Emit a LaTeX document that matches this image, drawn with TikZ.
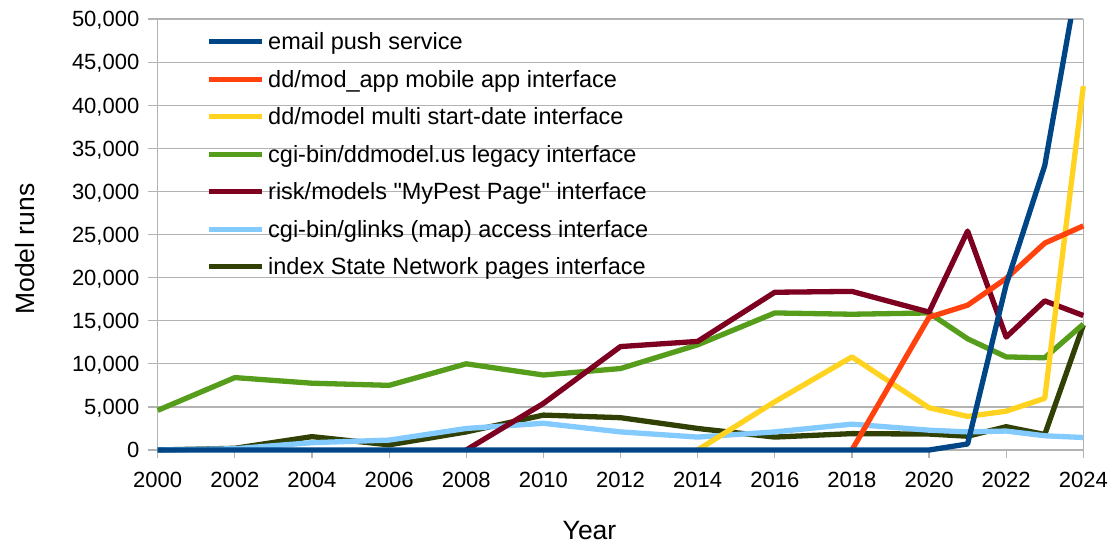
\documentclass[tikz,border=0pt]{standalone}
\usepackage{fontspec}
\setmainfont{Liberation Sans}[Ligatures=TeXOff]
\definecolor{gridc}{HTML}{B3B3B3}
\definecolor{cEmail}{HTML}{004586}
\definecolor{cApp}{HTML}{FF420E}
\definecolor{cMulti}{HTML}{FFD320}
\definecolor{cLegacy}{HTML}{579D1C}
\definecolor{cRisk}{HTML}{7E0021}
\definecolor{cGlinks}{HTML}{83CAFF}
\definecolor{cIndex}{HTML}{314004}
\tikzset{
  gridline/.style={draw=gridc, line width=1.2pt},
  ticklab/.style={font=\fontsize{22}{26}\selectfont, inner sep=0pt, text=black},
  legtext/.style={font=\fontsize{23.5}{27}\selectfont, inner sep=0pt, anchor=base west},
  axtitle/.style={font=\fontsize{26.5}{30}\selectfont, inner sep=0pt},
  series/.style={line width=5.3pt, line join=round},
  legline/.style={line width=5.3pt},
}
\begin{document}
\begin{tikzpicture}[x=1pt,y=-1pt]
\useasboundingbox (0,0) rectangle (1110,544);
% horizontal grid lines and y ticks
\foreach \i in {0,...,10} {
  \draw[gridline] (148,{450-\i*43.1}) -- (1083.3,{450-\i*43.1});
}
% x ticks
\foreach \k in {0,...,12} {
  \draw[gridline] ({157.7+\k*77.133},450) -- ({157.7+\k*77.133},458);
}
% plot borders
\draw[gridline] (157.7,19) -- (157.7,450);
\draw[gridline] (1083.3,19) -- (1083.3,450);
% y tick labels
\foreach \i/\t in {0/0,1/{5,000},2/{10,000},3/{15,000},4/{20,000},5/{25,000},6/{30,000},7/{35,000},8/{40,000},9/{45,000},10/{50,000}} {
  \node[ticklab, anchor=base east] (ylab\i) at (139.5,{457.8-\i*43.1}) {\t};
}
% x tick labels
\foreach \k in {0,...,12} {
  \pgfmathtruncatemacro{\yr}{2000+2*\k}
  \node[ticklab, anchor=base] (xlab\k) at ({157.7+\k*77.133},487.5) {\yr};
}
% axis titles
\node[axtitle, anchor=base] (xtitle) at (589.5,539.3) {Year};
\node[axtitle, anchor=base, rotate=90] (ytitle) at (34,249) {Model runs};
% data
\begin{scope}[shift={(157.7,450)}, x=38.567pt, y=8.62pt]
\clip (-1,-2) rectangle (25,50);
\draw[series, cIndex] plot coordinates {(0,0) (2,0.2) (4,1.55) (6,0.6) (8,2.1) (10,4.05) (12,3.75) (14,2.5) (16,1.5) (18,1.9) (20,1.85) (21,1.6) (22,2.7) (23,1.8) (24,14.5)};
\draw[series, cGlinks] plot coordinates {(0,0) (2,0.15) (4,0.85) (6,1.15) (8,2.5) (10,3.1) (12,2.1) (14,1.5) (16,2.1) (18,3.0) (20,2.3) (21,2.1) (22,2.2) (23,1.65) (24,1.45)};
\draw[series, cLegacy] plot coordinates {(0,4.6) (2,8.4) (4,7.75) (6,7.5) (8,10.0) (10,8.7) (12,9.45) (14,12.2) (16,15.9) (18,15.75) (20,15.9) (21,12.9) (22,10.8) (23,10.7) (24,14.6)};
\draw[series, cRisk] plot coordinates {(8,0) (10,5.4) (12,12.0) (14,12.6) (16,18.3) (18,18.4) (20,16.0) (21,25.4) (22,13.1) (23,17.3) (24,15.6)};
\draw[series, cMulti] plot coordinates {(14,0) (16,5.6) (18,10.8) (20,4.9) (21,3.9) (22,4.5) (23,6.0) (24,42.2)};
\draw[series, cApp] plot coordinates {(18,0) (20,15.4) (21,16.8) (22,19.9) (23,24.0) (24,26.0)};
\draw[series, cEmail] plot coordinates {(0,0) (2,0) (4,0) (6,0) (8,0) (10,0) (12,0) (14,0) (16,0) (18,0) (20,0) (21,0.7) (22,19.2) (23,33.0) (24,58.2)};
\end{scope}
% legend
\foreach \n/\c/\t [count=\j from 0] in {
  1/cEmail/{email push service},
  2/cApp/{dd/mod\_app mobile app interface},
  3/cMulti/{dd/model multi start-date interface},
  4/cLegacy/{cgi-bin/ddmodel.us legacy interface},
  5/cRisk/{risk/models "MyPest Page" interface},
  6/cGlinks/{cgi-bin/glinks (map) access interface},
  7/cIndex/{index State Network pages interface}} {
  \draw[legline, \c] (209,{41.7+\j*37.5}) -- (262,{41.7+\j*37.5});
  \node[legtext] (leg\n) at (268,{49.6+\j*37.5}) {\t};
}
\end{tikzpicture}
\end{document}
